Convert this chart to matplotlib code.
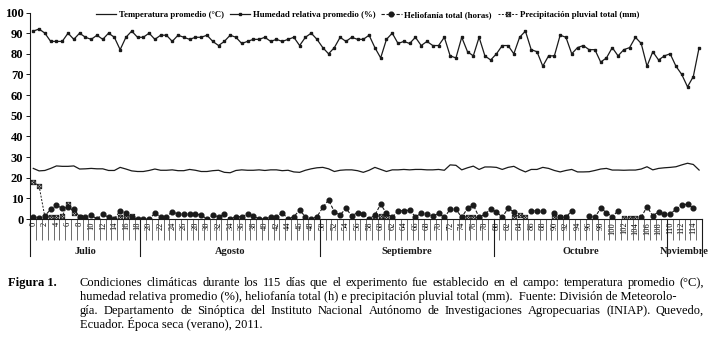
import matplotlib
matplotlib.use("Agg")
import matplotlib.pyplot as plt
import matplotlib.transforms as mtransforms
from matplotlib.path import Path
import numpy as np

nan = np.nan

# --- data ---
days = list(range(116))

humedad = [91, 92, 90, 86, 86, 86, 90, 87, 90, 88, 87, 89, 87, 90, 88, 82, 88, 91, 88, 88,
           90, 87, 89, 89, 86, 89, 88, 87, 88, 88, 89, 86, 84, 86, 89, 88, 85, 86, 87, 87,
           88, 86, 87, 86, 87, 88, 84, 88, 90, 87, 83, 80, 83, 88, 86, 88, 87, 87, 89, 83,
           78, 87, 90, 85, 86, 85, 88, 84, 86, 84, 84, 88, 79, 78, 88, 81, 79, 88, 79, 77,
           80, 84, 84, 80, 88, 91, 82, 81, 74, 79, 79, 89, 88, 80, 83, 84, 82, 82, 76, 78,
           83, 79, 82, 83, 88, 85, 74, 81, 77, 79, 80, 74, 70, 64, 69, 83]

temperatura = [24.5, 23.3, 23.5, 24.5, 25.7, 25.5, 25.5, 25.7, 24.2, 24.3, 24.5, 24.3, 24.3, 23.5,
               23.5, 25.0, 24.2, 23.3, 23.0, 23.0, 23.5, 24.2, 23.6, 23.6, 23.8, 23.4, 23.4, 24.0,
               23.6, 23.0, 23.0, 23.4, 23.6, 22.6, 22.4, 23.5, 23.8, 23.6, 23.6, 23.8, 23.5, 23.8,
               23.8, 23.4, 23.6, 22.8, 22.6, 23.6, 24.3, 24.8, 25.0, 24.3, 23.0, 23.6, 23.8, 23.8,
               23.4, 22.6, 23.6, 25.0, 24.0, 23.0, 23.8, 23.8, 24.0, 23.8, 24.0, 24.0, 23.8, 23.8,
               24.0, 23.6, 26.2, 26.0, 23.8, 24.8, 25.6, 24.0, 25.2, 25.2, 25.0, 24.0, 25.0, 25.5,
               24.0, 22.8, 24.0, 24.0, 25.0, 24.5, 23.5, 22.8, 23.5, 24.0, 22.8, 22.8, 22.9, 23.5,
               24.2, 24.5, 23.7, 23.7, 23.6, 23.7, 23.7, 24.2, 25.3, 23.8, 24.5, 24.8, 25.0, 25.3,
               26.2, 27.0, 26.4, 23.7]

heliofania = [1.1, 0.6, 1.5, 4.7, 6.6, 5.2, 5.6, 4.7, 1.0, 1.1, 1.9, 0, 2.4, 0.8, 0, 4.0, 2.7, 0.8,
              0, 0, 0, 2.7, 1.1, 1.1, 3.5, 2.4, 2.4, 2.4, 2.4, 1.9, 0, 1.9, 1.1, 2.4, 0, 1.1, 1.1,
              2.4, 1.5, 0, 0, 1.1, 1.1, 3.1, 0, 1.1, 4.3, 1.1, 0, 1.1, 5.6, 9.2, 3.5, 1.9, 5.2, 1.5,
              3.1, 2.4, 0, 1.9, 7.2, 2.7, 0.8, 4.0, 4.0, 4.3, 1.1, 2.7, 2.4, 1.5, 2.7, 0.8, 4.7, 4.7,
              0.8, 5.2, 6.8, 0.8, 2.4, 4.7, 3.5, 0.8, 5.2, 3.5, nan, nan, 4.0, 4.0, 4.0, nan, 2.7,
              1.1, 0.8, 4.0, nan, nan, 1.5, 0.8, 5.2, 3.1, 1.1, 4.0, nan, nan, nan, 0.8, 6.0, 1.5,
              3.5, 2.4, 2.4, 4.7, 6.8, 7.2, 5.2, nan]

precipitacion = [nan] * 116
for d, v in {0: 18, 1: 16, 2: 1.0, 3: 1.0, 4: 1.0, 5: 1.5, 6: 7.2, 7: 3.0, 8: 1.0,
             15: 1.0, 16: 1.5, 17: 1.5, 59: 1.0, 60: 1.6, 61: 1.0, 74: 1.0, 75: 1.1,
             76: 1.1, 77: 0.6, 83: 1.0, 84: 1.9, 85: 1.0, 90: 1.0, 91: 0.8, 92: 0.8,
             102: 0.5, 103: 0.5, 104: 0.5}.items():
    precipitacion[d] = v

xtick_days = days[0:115:2]
meses = ["Julio", "Agosto", "Septiembre", "Octubre", "Noviembre"]
limites = [-0.5, 18.5, 49.5, 79.5, 109.5, 115.5]

caption_lines = [
    "Condiciones climáticas durante los 115 días que el experimento fue establecido en el campo: temperatura promedio (°C),",
    "humedad relativa promedio (%), heliofanía total (h) e precipitación pluvial total (mm).  Fuente: División de Meteorolo-",
    "gía. Departamento de Sinóptica del Instituto Nacional Autónomo de Investigaciones Agropecuarias (INIAP). Quevedo,",
    "Ecuador. Época seca (verano), 2011.",
]
justify = [True, False, True, False]

INK = "#1a1a1a"
SERIF = ["Liberation Serif", "DejaVu Serif"]

# square with a cross inside, like the rain marker of the original
box_x = Path(
    [(-1, -1), (1, -1), (1, 1), (-1, 1), (-1, -1), (-1, -1), (1, 1), (-1, 1), (1, -1)],
    [Path.MOVETO, Path.LINETO, Path.LINETO, Path.LINETO, Path.CLOSEPOLY,
     Path.MOVETO, Path.LINETO, Path.MOVETO, Path.LINETO],
)

fig = plt.figure(figsize=(7.11, 3.39), dpi=100, facecolor="white")
ax = fig.add_axes([30.4 / 711, 120 / 339, 671.6 / 711, 206.5 / 339])

ax.plot(days, temperatura, color=INK, lw=0.9, label="Temperatura promedio (°C)")
ax.plot(days, humedad, color=INK, lw=0.9, marker="s", ms=2.0,
        label="Humedad relativa promedio (%)")
ax.plot(days, heliofania, color=INK, lw=0.8, ls=(0, (3, 1.5)), marker="o", ms=3.4,
        label="Heliofanía total (horas)")
ax.plot(days, precipitacion, color=INK, lw=0.7, ls=(0, (2, 1.5)), marker=box_x, ms=3.2,
        mfc="none", mec=INK, mew=0.6, label="Precipitación pluvial total (mm)")

ax.set_xlim(-0.5, 115.5)
ax.set_ylim(0, 100)
ax.set_yticks(range(0, 101, 10))
for lbl in ax.get_yticklabels():
    lbl.set_family(SERIF)
    lbl.set_fontweight("bold")
    lbl.set_fontsize(9)
ax.tick_params(axis="y", length=3, width=0.7, color=INK, pad=2)

ax.set_xticks(xtick_days)
ax.set_xticklabels([str(d) for d in xtick_days], rotation=90, family=SERIF, fontsize=6)
ax.set_xticks(np.arange(-0.5, 116, 1), minor=True)
ax.tick_params(axis="x", which="major", length=0, pad=2)
ax.tick_params(axis="x", which="minor", length=15, width=0.6, color="#555555")

for side in ["top", "right"]:
    ax.spines[side].set_visible(False)
for side in ["left", "bottom"]:
    ax.spines[side].set_color(INK)
    ax.spines[side].set_linewidth(0.8)

trans = mtransforms.blended_transform_factory(ax.transData, ax.transAxes)
for b in limites:
    ax.plot([b, b], [0, -0.18], transform=trans, clip_on=False, color=INK, lw=0.8)
for i, mes in enumerate(meses):
    xc = (limites[i] + limites[i + 1]) / 2
    ax.text(xc, -0.155, mes, transform=trans, ha="center", va="center",
            family=SERIF, fontweight="bold", fontsize=7.5, color=INK)

fig.legend(loc="upper left", bbox_to_anchor=(96 / 711, 1 - 11 / 339), ncol=4,
           frameon=False, handlelength=2.3, handletextpad=0.3, columnspacing=0.7,
           borderpad=0, borderaxespad=0,
           prop={"family": SERIF, "weight": "bold", "size": 6.3})

# caption
base0 = 286
fig.text(8 / 711, 1 - base0 / 339, "Figura 1.", family=SERIF, fontweight="bold",
         fontsize=9, va="baseline", ha="left")

fig.canvas.draw()
renderer = fig.canvas.get_renderer()
x_left, x_right = 80, 704
for i, line in enumerate(caption_lines):
    y = 1 - (base0 + 14 * i) / 339
    if not justify[i]:
        fig.text(x_left / 711, y, line, family=SERIF, fontsize=9, va="baseline", ha="left")
        continue
    words = [w for w in line.split(" ") if w]
    texts = [fig.text(0, y, w, family=SERIF, fontsize=9, va="baseline", ha="left") for w in words]
    widths = [t.get_window_extent(renderer).width for t in texts]
    gap = (x_right - x_left - sum(widths)) / (len(words) - 1)
    x = x_left
    for t, w in zip(texts, widths):
        t.set_x(x / 711)
        x += w + gap

fig.savefig("out.png", dpi=100, facecolor="white")
